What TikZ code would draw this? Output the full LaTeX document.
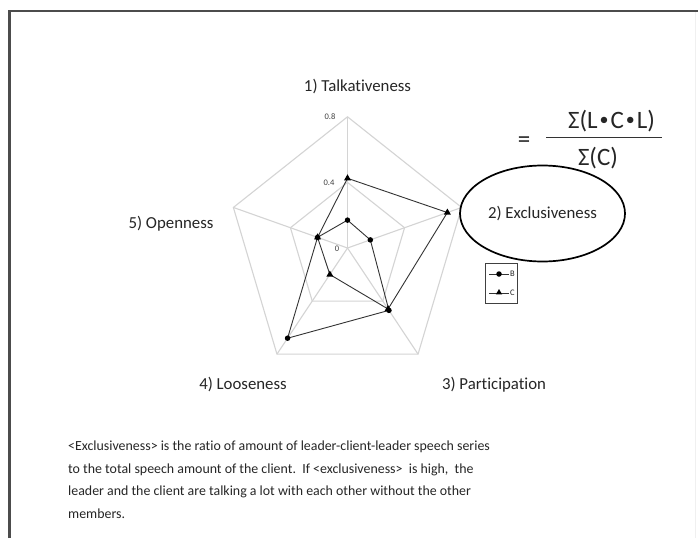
\documentclass[tikz,border=0pt]{standalone}
\usepackage{fontspec}
\setmainfont[Ligatures=NoCommon]{Carlito}
\usetikzlibrary{shapes.geometric}
\newcommand\mulpt{\kern2pt\raisebox{0.1em}{\scalebox{0.72}{•}}\kern2pt}
\begin{document}
\begin{tikzpicture}[x=1pt,y=-1pt,
  gridline/.style={draw=black!17, line width=1.1pt},
  series/.style={draw=black!80, line width=0.9pt},
  dotmark/.style={circle, fill=black, inner sep=0pt, minimum size=5.5pt},
  trimark/.style={regular polygon, regular polygon sides=3, fill=black, inner sep=0pt, minimum size=8pt},
  axislabel/.style={font=\fontsize{16.8}{19}\selectfont, text=black!85, inner sep=0pt},
  ticklabel/.style={font=\fontsize{8.5}{9}\selectfont, text=black!75, inner sep=0pt},
  formula/.style={font=\fontsize{25}{28}\selectfont, text=black!85, inner sep=0pt}]

\useasboundingbox (0,0) rectangle (698,538);
\fill[white] (0,0) rectangle (698,538);

% slide frame (top and left edges, faint right edge)
\draw[black!70, line width=2.6pt] (9.5,538) -- (9.5,11) -- (698,11);
\draw[black!6, line width=1pt] (695.5,12) -- (695.5,538);

% radar chart
\begin{scope}[shift={(347.5,248)}, x=150pt, y=164pt]
  % rings and spokes
  \foreach \r in {0.4,0.8}
    \draw[gridline] ({\r*cos(90)},{\r*sin(90)}) -- ({\r*cos(18)},{\r*sin(18)})
      -- ({\r*cos(-54)},{\r*sin(-54)}) -- ({\r*cos(-126)},{\r*sin(-126)})
      -- ({\r*cos(162)},{\r*sin(162)}) -- cycle;
  \foreach \a in {90,18,-54,-126,162}
    \draw[gridline] (0,0) -- ({0.8*cos(\a)},{0.8*sin(\a)});
  % series B
  \foreach \v [count=\i] in {0.17,0.16,0.47,0.68,0.21}
    \coordinate (b\i) at ({\v*cos(162-72*\i)},{\v*sin(162-72*\i)});
  % series C
  \foreach \v [count=\i] in {0.425,0.70,0.46,0.20,0.21}
    \coordinate (c\i) at ({\v*cos(162-72*\i)},{\v*sin(162-72*\i)});
  \draw[series] (b1) -- (b2) -- (b3) -- (b4) -- (b5) -- cycle;
  \draw[series] (c1) -- (c2) -- (c3) -- (c4) -- (c5) -- cycle;
  \foreach \i in {1,...,5} {
    \node[dotmark] (mb\i) at (b\i) {};
    \node[trimark] (mc\i) at (c\i) {};
  }
\end{scope}

% scale labels
\node[ticklabel] (t8) at (330,117) {0.8};
\node[ticklabel] (t4) at (329,183) {0.4};
\node[ticklabel] (t0) at (337,249) {0};

% axis titles
\node[axislabel] (lt) at (357.5,87) {1) Talkativeness};
\node[axislabel] (lo) at (171,224) {5) Openness};
\node[axislabel] (ll) at (243,385) {4) Looseness};
\node[axislabel] (lp) at (494,385) {3) Participation};
\node[axislabel, draw=black, line width=1.7pt, ellipse, inner sep=0pt,
      minimum width=165pt, minimum height=96pt] (ex) at (542.5,213.5) {2) Exclusiveness};

% legend
\node[draw=black!75, line width=0.7pt, inner sep=0pt,
      minimum width=32pt, minimum height=40pt] (leg) at (501,283) {};
\coordinate (lbL) at (489,274); \coordinate (lbR) at (509,274);
\coordinate (lcL) at (489,293); \coordinate (lcR) at (509,293);
\draw[series] (lbL) -- (lbR);
\draw[series] (lcL) -- (lcR);
\node[dotmark] (legb) at (499,274) {};
\node[trimark, minimum size=7pt] (legc) at (499,292.5) {};
\node[ticklabel, text=black!85, anchor=west] (legbt) at (510,274) {B};
\node[ticklabel, text=black!85, anchor=west] (legct) at (510,293) {C};

% defining formula
\node[formula] (eq) at (524,142) {=};
\node[formula] (num) at (611.5,121) {Σ(L\mulpt C\mulpt L)};
\node[formula] (den) at (598,158) {Σ(C)};
\coordinate (barL) at (546,137);
\coordinate (barR) at (662,137);
\draw[black!80, line width=1pt] (barL) -- (barR);

% explanation
\node[anchor=north west, inner sep=0pt, align=left, text=black!85,
      font=\fontsize{13.9}{22.4}\selectfont] (note) at (68,441)
  {<Exclusiveness> is the ratio of amount of leader-client-leader speech series\\
   to the total speech amount of the client.\ \ If <exclusiveness>\ \ is high,\ \ the\\
   leader and the client are talking a lot with each other without the other\\
   members.};
\end{tikzpicture}
\end{document}
